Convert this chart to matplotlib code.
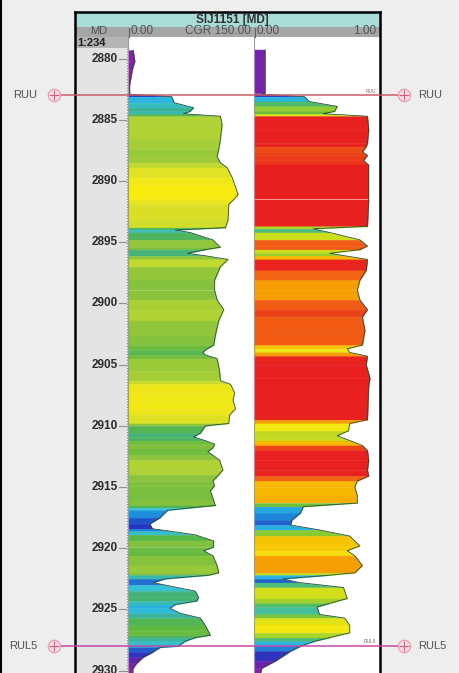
import numpy as np
import matplotlib
matplotlib.use('Agg')
import matplotlib.pyplot as plt
from matplotlib import transforms
from matplotlib.colors import LinearSegmentedColormap, Normalize

plt.rcParams['font.family'] = ['Liberation Sans', 'DejaVu Sans']

W, H = 460, 673

# CGR curve (gAPI), track 1
cgr_depth = [2879.3, 2880.2, 2880.9, 2882.1, 2882.9, 2883.1, 2883.6, 2884.0, 2884.3, 2884.5,
             2884.7, 2885.4, 2886.6, 2887.4, 2888.0, 2888.5, 2888.9, 2889.7, 2890.3, 2891.1,
             2891.5, 2891.9, 2893.2, 2893.8, 2894.0, 2894.2, 2894.8, 2895.4, 2895.6, 2895.9,
             2896.1, 2896.4, 2897.0, 2898.1, 2898.9, 2899.7, 2900.5, 2901.4, 2902.6, 2903.4,
             2903.8, 2904.0, 2904.2, 2904.5, 2905.5, 2906.3, 2906.6, 2907.3, 2907.9, 2908.6,
             2909.1, 2909.8, 2910.0, 2910.6, 2910.9, 2911.2, 2911.5, 2911.8, 2912.1, 2912.4,
             2912.8, 2913.6, 2914.0, 2914.5, 2914.9, 2915.3, 2916.1, 2916.5, 2916.7, 2916.9,
             2917.5, 2918.0, 2918.4, 2918.6, 2918.9, 2919.4, 2919.9, 2920.2, 2920.6, 2921.4,
             2922.0, 2922.2, 2922.5, 2922.8, 2923.0, 2923.5, 2924.0, 2924.3, 2924.6, 2924.9,
             2925.3, 2925.7, 2926.3, 2926.7, 2927.1, 2927.3, 2927.6, 2928.0, 2928.1, 2928.5,
             2928.9, 2929.4, 2929.8, 2930.3]
cgr_value = [6, 8, 5, 2, 2, 52, 55, 78, 74, 66,
             110, 112, 110, 108, 106, 110, 118, 124, 127, 131,
             126, 120, 119, 116, 56, 74, 101, 110, 92, 71,
             92, 119, 110, 103, 103, 106, 114, 108, 104, 102,
             92, 89, 92, 106, 109, 110, 122, 127, 125, 128,
             121, 120, 92, 86, 78, 92, 103, 101, 95, 101,
             109, 113, 108, 101, 103, 98, 102, 104, 74, 47,
             38, 26, 29, 50, 80, 102, 102, 90, 101, 106,
             108, 96, 44, 30, 44, 80, 84, 82, 56, 50,
             62, 86, 92, 95, 98, 80, 68, 60, 38, 29,
             18, 10, 6, 6]

# second curve (0 - 1), track 2
tr2_depth = [2879.3, 2882.8, 2882.9, 2883.1, 2883.5, 2883.9, 2884.3, 2884.5, 2884.7, 2885.8,
             2886.9, 2887.2, 2887.6, 2887.9, 2888.3, 2888.7, 2891.5, 2893.7, 2893.9, 2894.2,
             2894.8, 2895.3, 2895.6, 2895.9, 2896.1, 2896.4, 2897.3, 2898.1, 2898.9, 2899.7,
             2900.5, 2901.1, 2902.2, 2903.4, 2903.7, 2904.0, 2904.3, 2905.0, 2906.1, 2906.7,
             2909.5, 2909.8, 2910.4, 2910.8, 2911.2, 2911.6, 2912.0, 2912.8, 2913.6, 2914.1,
             2914.5, 2915.0, 2915.7, 2916.3, 2916.6, 2917.1, 2917.7, 2918.1, 2918.5, 2919.0,
             2919.8, 2920.2, 2920.6, 2921.4, 2922.0, 2922.2, 2922.5, 2922.8, 2923.2, 2924.1,
             2924.5, 2924.8, 2925.4, 2925.7, 2926.3, 2926.9, 2927.3, 2927.6, 2928.0, 2928.4,
             2929.2, 2929.8, 2930.3]
tr2_value = [0.09, 0.09, 0.06, 0.40, 0.44, 0.66, 0.64, 0.55, 0.90, 0.91,
             0.90, 0.89, 0.86, 0.90, 0.87, 0.91, 0.91, 0.90, 0.47, 0.60,
             0.84, 0.90, 0.84, 0.60, 0.72, 0.90, 0.89, 0.84, 0.82, 0.84,
             0.90, 0.86, 0.88, 0.86, 0.74, 0.76, 0.90, 0.89, 0.92, 0.91,
             0.90, 0.76, 0.75, 0.66, 0.76, 0.86, 0.90, 0.91, 0.90, 0.91,
             0.82, 0.80, 0.82, 0.82, 0.39, 0.37, 0.30, 0.29, 0.52, 0.76,
             0.84, 0.74, 0.80, 0.86, 0.80, 0.60, 0.23, 0.36, 0.71, 0.74,
             0.60, 0.50, 0.52, 0.72, 0.76, 0.76, 0.60, 0.48, 0.37, 0.29,
             0.17, 0.06, 0.05]

depth_labels = [2880, 2885, 2890, 2895, 2900, 2905, 2910, 2915, 2920, 2925, 2930]
top_names = ['RUU', 'RUL5']
top_depths = [2883.0, 2928.0]
top_colors = ['#cc5868', '#c844a8']

cmap1 = LinearSegmentedColormap.from_list('cgr', [
    (0.0, '#a0209c'), (0.08, '#6a22b0'), (0.18, '#2436c0'), (0.3, '#1e9ee0'),
    (0.4, '#34c4dc'), (0.52, '#3cb08c'), (0.62, '#5cb840'), (0.7, '#8cc43c'),
    (0.76, '#c0d830'), (0.82, '#e8e420'), (0.86, '#f8ec10'), (1.0, '#f8c800')])
cmap2 = LinearSegmentedColormap.from_list('tr2', [
    (0.0, '#a0209c'), (0.12, '#6a22b0'), (0.25, '#2436c0'), (0.36, '#1e9ee0'),
    (0.46, '#34c4dc'), (0.58, '#5cb840'), (0.68, '#a8d428'), (0.76, '#f4e810'),
    (0.82, '#f8b000'), (0.86, '#f47010'), (0.9, '#e82020'), (1.0, '#e01818')])

TOP_DEPTH, BOT_DEPTH = 2878.23, 2930.19


def box(x0, y0, x1, y1):
    return [x0 / W, 1 - y1 / H, (x1 - x0) / W, (y1 - y0) / H]


def colour_fill(ax, depth, value, cmap, norm):
    for i in range(len(depth) - 1):
        c = cmap(norm((value[i] + value[i + 1]) / 2))
        ax.fill_betweenx([depth[i], depth[i + 1]], 0, [value[i], value[i + 1]],
                         facecolor=c, edgecolor=c, linewidth=0.3)
    ax.plot(value, depth, color='#244a30', lw=0.55)


fig = plt.figure(figsize=(W / 100, H / 100), dpi=100)
fig.patch.set_facecolor('#eeeeee')

# depth track
ax_d = fig.add_axes(box(75, 37, 128, 673))
ax_d.set_facecolor('#e4e4e4')
ax_d.set_xlim(0, 1)
ax_d.set_ylim(BOT_DEPTH, TOP_DEPTH)
ax_d.set_xticks([])
ax_d.set_yticks([])
for s in ax_d.spines.values():
    s.set_visible(False)
for d in depth_labels:
    ax_d.text(0.80, d, str(d), ha='right', va='center', fontsize=8.5,
              fontweight='bold', color='#2a2a2a')
    ax_d.plot([0.83, 0.97], [d, d], color='#909090', lw=0.8)
ax_d.plot([0.99, 0.99], [TOP_DEPTH, BOT_DEPTH], color='#8a8a8a', lw=0.8, ls=(0, (1, 1.5)))

# track 1 : CGR 0 - 150
ax1 = fig.add_axes(box(128, 37, 254, 673))
ax1.set_xlim(0, 150)
ax1.set_ylim(BOT_DEPTH, TOP_DEPTH)
colour_fill(ax1, cgr_depth, cgr_value, cmap1, Normalize(0, 150))

# track 2 : 0 - 1
ax2 = fig.add_axes(box(254, 37, 380, 673))
ax2.set_xlim(0, 1)
ax2.set_ylim(BOT_DEPTH, TOP_DEPTH)
colour_fill(ax2, tr2_depth, tr2_value, cmap2, Normalize(0, 1))

for ax in (ax1, ax2):
    ax.set_facecolor('white')
    ax.set_xticks([])
    ax.set_yticks([])
    for s in ax.spines.values():
        s.set_visible(False)
    ax.axvline(0, color='#9a9a9a', lw=0.8)

# overlay in pixel coordinates for header, frame and formation tops
ov = fig.add_axes([0, 0, 1, 1], zorder=5)
ov.set_xlim(0, W)
ov.set_ylim(H, 0)
ov.axis('off')
ov.patch.set_alpha(0)

ov.add_patch(plt.Rectangle((75, 12), 305, 15, facecolor='#a8dcd6', edgecolor='none'))
ov.add_patch(plt.Rectangle((75, 27), 305, 10, facecolor='#a6a6a6', edgecolor='none'))
ov.add_patch(plt.Rectangle((75, 37), 53, 11, facecolor='#b4b4b4', edgecolor='none'))
ov.text(232, 20, 'SIJ1151 [MD]', ha='center', va='center', fontsize=8.5,
        fontweight='bold', color='#303030')
ov.text(99, 31.5, 'MD', ha='center', va='center', fontsize=8, color='#505050')
ov.text(131, 31.5, '0.00', ha='left', va='center', fontsize=8.5, color='#505050')
ov.text(251, 31.5, 'CGR 150.00', ha='right', va='center', fontsize=8.5, color='#505050')
ov.text(257, 31.5, '0.00', ha='left', va='center', fontsize=8.5, color='#505050')
ov.text(376, 31.5, '1.00', ha='right', va='center', fontsize=8.5, color='#505050')
ov.text(77, 43, '1:234', ha='left', va='center', fontsize=8,
        fontweight='bold', color='#202020')
for x in (129, 255):
    ov.plot([x, x], [28, 37], color='#606060', lw=0.8)

# frame
ov.plot([75, 380], [12, 12], color='black', lw=1.8)
ov.plot([75, 75], [12, H], color='black', lw=1.8)
ov.plot([380, 380], [12, H], color='black', lw=1.8)
ov.plot([1, 1], [0, H], color='black', lw=1.5)

# formation tops: x in pixels, y in depth
blend = transforms.blended_transform_factory(ov.transData, ax1.transData)
for name, d, c in zip(top_names, top_depths, top_colors):
    ov.plot([60, 398], [d, d], color=c, lw=1.2, transform=blend, alpha=0.9)
    for x in (54, 404):
        ov.plot(x, d, marker='o', ms=9, mfc='#f8d8e0', mec='#e890a8', mew=0.8,
                transform=blend, alpha=0.9)
        ov.plot(x, d, marker='+', ms=7, mec='#d06080', mew=0.8, transform=blend)
    ov.text(37, d, name, ha='right', va='center', fontsize=8, color='#505050',
            transform=blend)
    ov.text(418, d, name, ha='left', va='center', fontsize=8, color='#505050',
            transform=blend)
    ov.text(376, d - 0.15, name, ha='right', va='bottom', fontsize=3.5,
            color='#806070', transform=blend)

fig.savefig('out.png', dpi=100, facecolor=fig.get_facecolor())
